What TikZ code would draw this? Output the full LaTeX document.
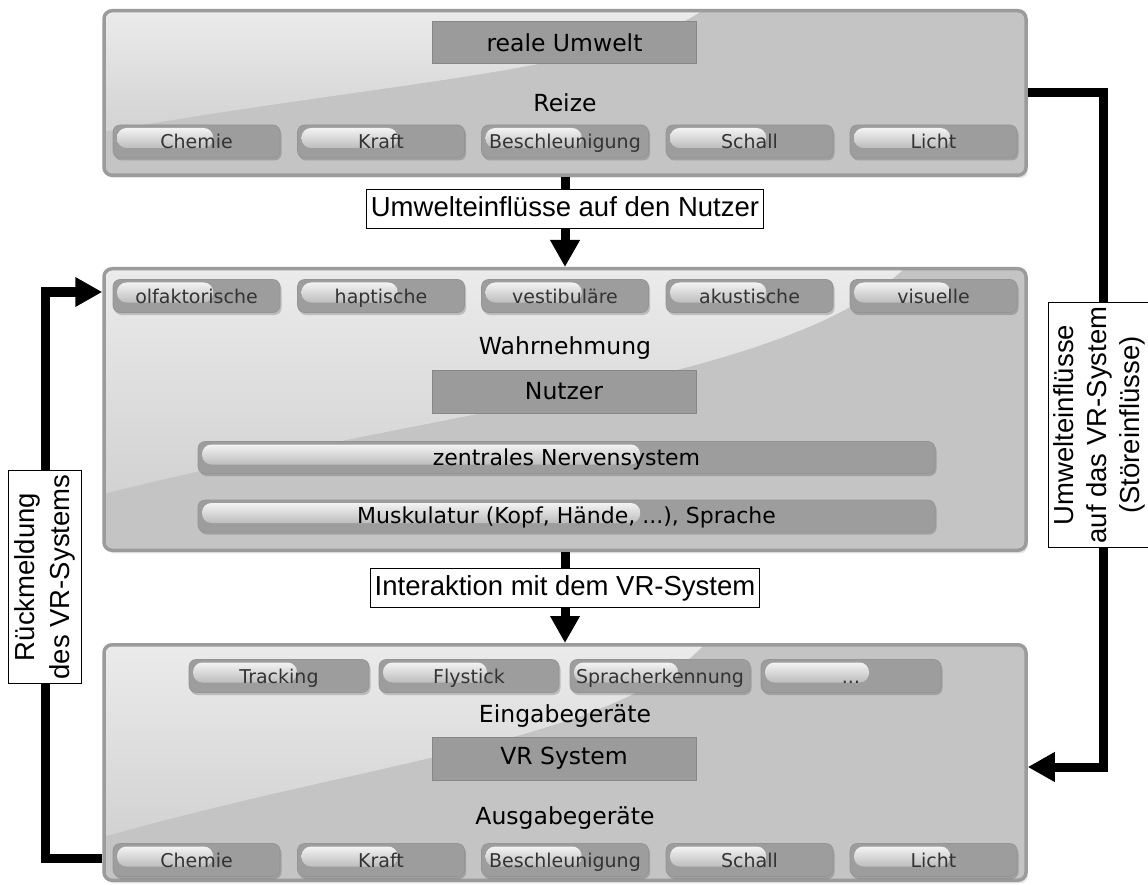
\documentclass[tikz,border=0pt]{standalone}
\usepackage{fontspec}
\setmainfont{DejaVu Sans}
\newfontfamily\labelfont{Liberation Sans}
\usetikzlibrary{arrows.meta,calc}

\definecolor{panelfill}{HTML}{C4C4C4}
\definecolor{paneledge}{HTML}{9B9B9B}
\definecolor{glosstop}{HTML}{EBEBEB}
\definecolor{glossbot}{HTML}{D2D2D2}
\definecolor{pillfill}{HTML}{9D9D9D}
\definecolor{pilledge}{HTML}{949494}
\definecolor{hitop}{HTML}{F3F3F3}
\definecolor{hibot}{HTML}{BDBDBD}
\definecolor{pilltext}{HTML}{333333}
\definecolor{darkfill}{HTML}{9B9B9B}
\definecolor{darkedge}{HTML}{878787}

\tikzset{
  panel/.style={rounded corners=8pt, fill=panelfill, draw=paneledge, line width=3.5pt,
    preaction={fill=black, opacity=0.10, transform canvas={xshift=2pt,yshift=-3pt}},
    minimum width=922pt, inner sep=0pt},
  % glossy highlight in the upper left part of a panel: #1 = drop at the left edge, #2 = reach along the top
  gloss/.style 2 args={path picture={
    \coordinate (gnw) at (path picture bounding box.north west);
    \shade[sharp corners, top color=glosstop, bottom color=glossbot]
      (gnw) -- ([yshift=-#1pt]gnw)
      .. controls +(0.45*#2pt, 0.4*#1pt) and +(-0.15*#2pt, -0.5*#1pt) .. ([xshift=#2pt]gnw) -- cycle;
  }},
  pillbase/.style={rounded corners=7pt, fill=pillfill, draw=pilledge, line width=0.6pt,
    minimum height=33pt, inner sep=0pt,
    preaction={fill=black, opacity=0.18, transform canvas={xshift=1.5pt,yshift=-2.5pt}},
    path picture={
      \coordinate (pnw) at (path picture bounding box.north west);
      \coordinate (pne) at (path picture bounding box.north east);
      \shade[rounded corners=9.5pt, top color=hitop, bottom color=hibot]
        ([xshift=4pt,yshift=-3pt]pnw) rectangle ([yshift=-23pt]$(pnw)!0.6!(pne)$);
    }},
  pill/.style={pillbase, text=pilltext, text height=17pt, text depth=3pt,
    font=\fontsize{19}{22}\selectfont},
  bar/.style={pillbase, minimum width=737pt, minimum height=32pt, text=black,
    text height=19pt, text depth=4pt, font=\fontsize{22}{26}\selectfont},
  darkbox/.style={fill=darkfill, draw=darkedge, line width=1pt, minimum width=264pt,
    minimum height=42pt, inner sep=0pt, font=\fontsize{23.5}{28}\selectfont},
  title/.style={inner sep=0pt, font=\fontsize{23.5}{28}\selectfont},
  flowlabel/.style={draw=black, line width=1pt, fill=white, inner xsep=4pt, inner ysep=6pt,
    text height=21pt, text depth=6pt, font=\labelfont\fontsize{27.5}{31}\selectfont},
  sidelabel/.style={draw=black, line width=1pt, fill=white, inner xsep=4pt, inner ysep=6pt,
    align=center, rotate=90, font=\labelfont\fontsize{27.5}{35}\selectfont},
  conn/.style={line width=9pt, -{Triangle[width=28pt,length=27pt]}},
}

\newcommand\placepill[5]{\node[pill, minimum width=#4pt] (#1) at (#2,#3) {#5};}

\begin{document}
\begin{tikzpicture}[x=1pt,y=-1pt]
  \fill[white] (0,0) rectangle (1148,885);
  \useasboundingbox (0,0) rectangle (1148,885);

  % the three panels
  \node[panel, gloss={121}{598}, minimum height=164.5pt] (env) at (565,93) {};
  \node[panel, gloss={225}{800}, minimum height=281.5pt] (user) at (565,409.5) {};
  \node[panel, gloss={192}{600}, minimum height=235.5pt] (vr) at (565,762.5) {};

  % environment panel
  \node[darkbox] (reale) at (564.5,43) {reale Umwelt};
  \node[title] (reize) at (565,103) {Reize};
  \placepill{e1}{196.5}{141.5}{167}{Chemie}
  \placepill{e2}{381}{141.5}{167}{Kraft}
  \placepill{e3}{565}{141.5}{167}{Beschleunigung}
  \placepill{e4}{749.5}{141.5}{167}{Schall}
  \placepill{e5}{933.5}{141.5}{167}{Licht}

  % user panel
  \placepill{u1}{196.5}{296}{167}{olfaktorische}
  \placepill{u2}{381}{296}{167}{haptische}
  \placepill{u3}{565}{296}{167}{vestibuläre}
  \placepill{u4}{749.5}{296}{167}{akustische}
  \placepill{u5}{933.5}{296}{167}{visuelle}
  \node[title] (wahr) at (565,348) {Wahrnehmung};
  \node[darkbox, minimum height=43pt] (nutzer) at (564,391.5) {Nutzer};
  \node[bar] (zns) at (566.5,457.5) {zentrales Nervensystem};
  \node[bar] (musk) at (566.5,516) {Muskulatur (Kopf, Hände, ...), Sprache};

  % VR system panel
  \placepill{i1}{279}{676}{180}{Tracking}
  \placepill{i2}{469}{676}{180}{Flystick}
  \placepill{i3}{660}{676}{180}{Spracherkennung}
  \placepill{i4}{851}{676}{180}{...}
  \node[title] (ein) at (565,716) {Eingabegeräte};
  \node[darkbox, minimum height=43pt] (vrsys) at (564,758.5) {VR System};
  \node[title] (aus) at (565,818) {Ausgabegeräte};
  \placepill{o1}{196.5}{860}{167}{Chemie}
  \placepill{o2}{381}{860}{167}{Kraft}
  \placepill{o3}{565}{860}{167}{Beschleunigung}
  \placepill{o4}{749.5}{860}{167}{Schall}
  \placepill{o5}{933.5}{860}{167}{Licht}

  % connectors
  \coordinate (rc) at (1103,767);
  \coordinate (lb) at (45,858);
  \coordinate (lt) at (45,292);
  \draw[conn] (env.south) -- (user.north);
  \draw[conn] (user.south) -- (vr.north);
  \draw[conn] (env.east) -| (rc) -- (vr.east |- rc);
  \draw[conn] (vr.west |- lb) -- (lb) -- (lt) -- (user.west |- lt);

  % connector labels
  \node[flowlabel] (l1) at (565,209.5) {Umwelteinflüsse auf den Nutzer};
  \node[flowlabel] (l2) at (565,587.5) {Interaktion mit dem VR-System};
  \node[sidelabel, font=\labelfont\fontsize{27.5}{33}\selectfont, inner ysep=5pt]
    (l3) at (1099,425) {Umwelteinflüsse\\auf das VR-System\\(Störeinflüsse)};
  \node[sidelabel] (l4) at (45,577) {Rückmeldung\\des VR-Systems};
\end{tikzpicture}
\end{document}
